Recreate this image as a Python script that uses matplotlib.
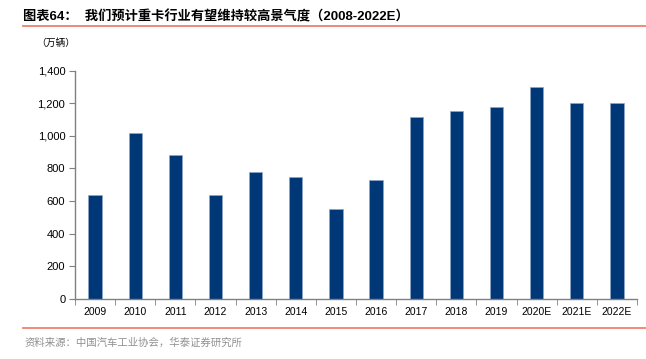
import matplotlib
matplotlib.use("Agg")
import matplotlib.pyplot as plt
from matplotlib.lines import Line2D
from matplotlib.ticker import FuncFormatter, FixedLocator

plt.rcParams['font.family'] = ['Liberation Sans', 'Noto Sans CJK SC', 'DejaVu Sans']

# heavy truck sales (10k units)
years = ['2009', '2010', '2011', '2012', '2013', '2014', '2015', '2016',
         '2017', '2018', '2019', '2020E', '2021E', '2022E']
sales = [637, 1017, 882, 635, 776, 745, 549, 729, 1114, 1151, 1175, 1302, 1202, 1202]

title = '图表64：  我们预计重卡行业有望维持较高景气度（2008-2022E）'
unit = '（万辆）'
source = '资料来源：中国汽车工业协会，华泰证券研究所'

fig = plt.figure(figsize=(6.46, 3.59), dpi=100)
ax = fig.add_axes([0.1161, 0.168, 0.8699, 0.635])

x = list(range(len(years)))
ax.bar(x, sales, width=0.33, color='#003776', edgecolor='#8fa6c8', linewidth=0.5)

ax.set_xlim(-0.5, len(years) - 0.5)
ax.set_ylim(0, 1400)
ax.set_yticks(range(0, 1401, 200))
ax.yaxis.set_major_formatter(FuncFormatter(lambda v, p: f'{int(v):,}'))

ax.set_xticks(x)
ax.set_xticklabels(years)
ax.tick_params(axis='x', which='major', length=0, labelsize=7.5, pad=6)
ax.xaxis.set_minor_locator(FixedLocator([i - 0.5 for i in range(len(years) + 1)]))
ax.tick_params(axis='x', which='minor', length=4, color='#808080', direction='out')
ax.tick_params(axis='y', length=4, color='#808080', labelsize=8, pad=3)

for s in ['top', 'right']:
    ax.spines[s].set_visible(False)
for s in ['left', 'bottom']:
    ax.spines[s].set_color('#808080')
    ax.spines[s].set_linewidth(1.0)

fig.text(23 / 646, 1 - 17 / 359, title, fontsize=9.5, fontweight='bold',
         va='center', ha='left')
fig.text(36 / 646, 1 - 43 / 359, unit, fontsize=7, va='center', ha='left')
fig.text(25 / 646, 1 - 343 / 359, source, fontsize=7.5, color='#909090',
         va='center', ha='left')

for yy in [26, 328]:
    fig.add_artist(Line2D([23 / 646, 1.0], [1 - yy / 359, 1 - yy / 359],
                          color='#f08070', linewidth=1.3, transform=fig.transFigure))

fig.savefig('out.png', dpi=100)
